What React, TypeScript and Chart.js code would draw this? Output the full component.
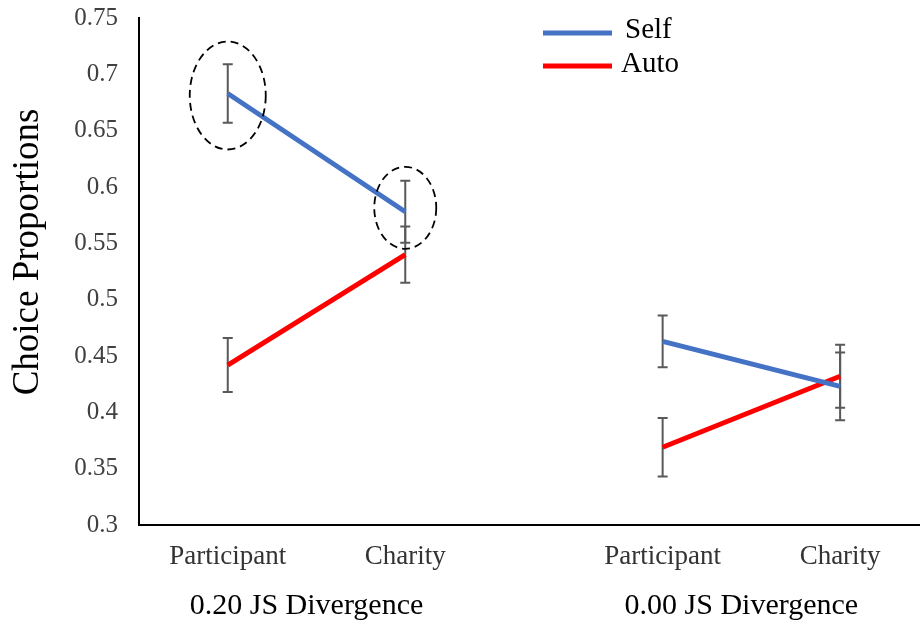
import React, { useEffect, useRef } from "react";
import { Chart, registerables } from "chart.js";
Chart.register(...registerables);

const categories = ["Participant", "Charity", "Participant", "Charity"];
const categoryPositions = [0.5, 1.5, 2.95, 3.95];
const groupLabels = ["0.20 JS Divergence", "0.00 JS Divergence"];
const seriesNames = ["Self", "Auto"];
const selfValues = [0.683, 0.578, 0.463, 0.423];
const autoValues = [0.442, 0.54, 0.369, 0.432];
const selfErrors = [0.026, 0.0275, 0.023, 0.03];
const autoErrors = [0.024, 0.025, 0.026, 0.028];
const yTicks = [0.3, 0.35, 0.4, 0.45, 0.5, 0.55, 0.6, 0.65, 0.7, 0.75];
const yTitle = "Choice Proportions";
const highlightedSelf = [0, 1];

const FONT = "'Liberation Serif', serif";
const COLORS = ["#4472C4", "#FF0000"];

function buildPoints(values: number[]) {
  const pts: { x: number; y: number | null }[] = [];
  values.forEach((v, i) => {
    if (i === 2) pts.push({ x: (categoryPositions[1] + categoryPositions[2]) / 2, y: null });
    pts.push({ x: categoryPositions[i], y: v });
  });
  return pts;
}

const overlayPlugin = {
  id: "overlay",
  beforeDatasetsDraw(chart: any) {
    const { ctx, scales } = chart;
    const xs = scales.x, ys = scales.y;
    ctx.save();
    ctx.strokeStyle = "#595959";
    ctx.lineWidth = 2;
    const draw = (vals: number[], errs: number[]) => {
      vals.forEach((v, i) => {
        const px = xs.getPixelForValue(categoryPositions[i]);
        const top = ys.getPixelForValue(v + errs[i]);
        const bot = ys.getPixelForValue(v - errs[i]);
        ctx.beginPath();
        ctx.moveTo(px, top); ctx.lineTo(px, bot);
        ctx.moveTo(px - 5, top); ctx.lineTo(px + 5, top);
        ctx.moveTo(px - 5, bot); ctx.lineTo(px + 5, bot);
        ctx.stroke();
      });
    };
    draw(selfValues, selfErrors);
    draw(autoValues, autoErrors);
    ctx.restore();
  },
  afterDraw(chart: any) {
    const { ctx, scales } = chart;
    const xs = scales.x, ys = scales.y;
    ctx.save();
    // ellipses
    const sizes = [
      { rx: 38, ry: 54, dy: 2 },
      { rx: 31, ry: 41, dy: -4 },
    ];
    ctx.strokeStyle = "#000";
    ctx.lineWidth = 1.8;
    ctx.setLineDash([8, 5]);
    highlightedSelf.forEach((idx, k) => {
      const px = xs.getPixelForValue(categoryPositions[idx]);
      const py = ys.getPixelForValue(selfValues[idx]);
      ctx.beginPath();
      ctx.ellipse(px, py + sizes[k].dy, sizes[k].rx, sizes[k].ry, 0, 0, Math.PI * 2);
      ctx.stroke();
    });
    ctx.setLineDash([]);
    // group labels
    ctx.fillStyle = "#000";
    ctx.font = `30px ${FONT}`;
    ctx.textAlign = "center";
    ctx.textBaseline = "middle";
    groupLabels.forEach((g, k) => {
      const mid = (categoryPositions[k * 2] + categoryPositions[k * 2 + 1]) / 2;
      ctx.fillText(g, xs.getPixelForValue(mid) - 10, 606);
    });
    // y title
    ctx.save();
    ctx.translate(28, 252);
    ctx.rotate(-Math.PI / 2);
    ctx.font = `37px ${FONT}`;
    ctx.fillText(yTitle, 0, 0);
    ctx.restore();
    // legend
    const legendY = [33, 66];
    const textY = [30, 64];
    seriesNames.forEach((name, k) => {
      ctx.strokeStyle = COLORS[k];
      ctx.lineWidth = 5;
      ctx.beginPath();
      ctx.moveTo(543, legendY[k]);
      ctx.lineTo(612, legendY[k]);
      ctx.stroke();
      ctx.fillStyle = "#000";
      ctx.font = `29px ${FONT}`;
      ctx.textAlign = "left";
      ctx.fillText(name, k === 0 ? 625 : 621, textY[k]);
    });
    ctx.restore();
  },
};

export default function App() {
  const ref = useRef<HTMLCanvasElement>(null);
  useEffect(() => {
    if (!ref.current) return;
    const chart = new Chart(ref.current, {
      type: "line",
      data: {
        datasets: [
          {
            label: seriesNames[0],
            data: buildPoints(selfValues) as any,
            borderColor: COLORS[0],
            borderWidth: 5,
            pointRadius: 0,
            spanGaps: false,
          },
          {
            label: seriesNames[1],
            data: buildPoints(autoValues) as any,
            borderColor: COLORS[1],
            borderWidth: 5,
            pointRadius: 0,
            spanGaps: false,
          },
        ],
      },
      options: {
        animation: false,
        responsive: false,
        layout: { padding: 0 },
        plugins: { legend: { display: false }, tooltip: { enabled: false } },
        scales: {
          x: {
            type: "linear",
            min: 0,
            max: 4.4,
            afterBuildTicks: (s: any) => {
              s.ticks = categoryPositions.map((v) => ({ value: v }));
            },
            afterFit: (s: any) => {
              s.height = 101;
              s.paddingLeft = 0;
              s.paddingRight = 0;
            },
            ticks: {
              autoSkip: false,
              maxRotation: 0,
              padding: 16,
              color: "#333",
              font: { family: FONT, size: 27 },
              callback: (_v: any, i: number) => categories[i],
            },
            grid: { display: false, drawTicks: false },
            border: { display: true, color: "#000", width: 2 },
          },
          y: {
            min: 0.3,
            max: 0.75,
            afterBuildTicks: (s: any) => {
              s.ticks = yTicks.map((v) => ({ value: v }));
            },
            afterFit: (s: any) => {
              s.width = 139;
              s.paddingTop = 18;
              s.paddingBottom = 0;
            },
            ticks: {
              padding: 21,
              color: "#404040",
              font: { family: FONT, size: 25 },
              callback: (v: any) => String(+Number(v).toFixed(2)),
            },
            grid: { display: false, drawTicks: false },
            border: { display: true, color: "#000", width: 2 },
          },
        },
      },
      plugins: [overlayPlugin],
    });
    return () => chart.destroy();
  }, []);
  return (
    <div style={{ position: "fixed", left: 0, top: 0, width: 920, height: 626, background: "#fff" }}>
      <canvas ref={ref} width={920} height={626} style={{ width: 920, height: 626 }} />
    </div>
  );
}
